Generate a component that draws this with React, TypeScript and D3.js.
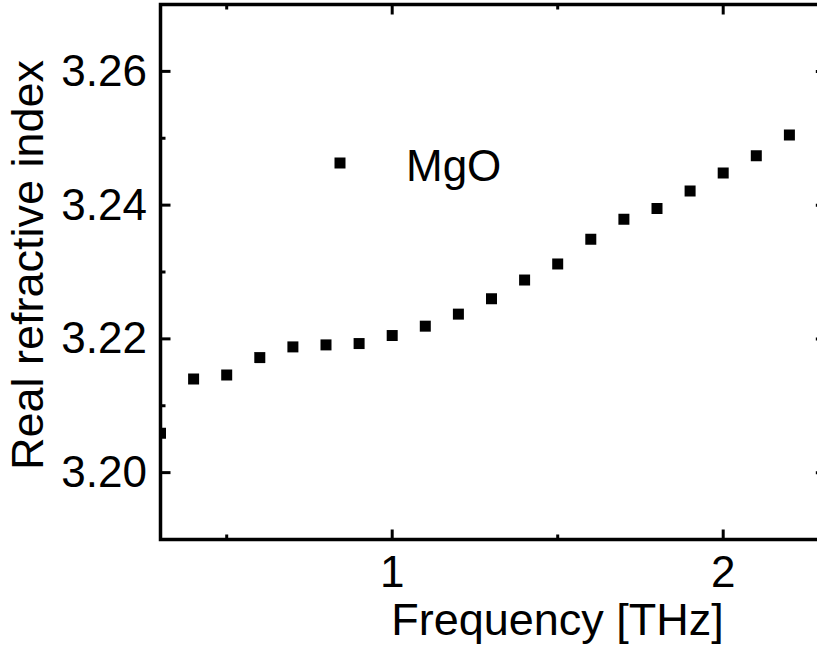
import React from "react";
import * as d3 from "d3";

const freqTHz = [0.3, 0.4, 0.5, 0.6, 0.7, 0.8, 0.9, 1.0, 1.1, 1.2, 1.3, 1.4, 1.5, 1.6, 1.7, 1.8, 1.9, 2.0, 2.1, 2.2];
const realIndex = [3.2059, 3.2140, 3.2146, 3.2172, 3.2188, 3.2191, 3.2193, 3.2205, 3.2219, 3.2237, 3.2260, 3.2288, 3.2312, 3.2349, 3.2379, 3.2395, 3.2421, 3.2448, 3.2474, 3.2505];
const xMajorTicks = [1, 2];
const xMinorTicks = [0.5, 1.5];
const yMajorTicks = [3.2, 3.22, 3.24, 3.26];
const yMinorTicks = [3.21, 3.23, 3.25];
const seriesName = "MgO";
const xTitle = "Frequency [THz]";
const yTitle = "Real refractive index";

const W = 817;
const H = 661;
const L = 160.5, T = 4.5, B = 539.5;
const PX_PER_THZ = 331;
const X0 = 0.3, X1 = 2.31;
const R = L + (X1 - X0) * PX_PER_THZ;
const FONT = "'Liberation Sans', Arial, Helvetica, sans-serif";

export default function App() {
  const x = d3.scaleLinear().domain([X0, X1]).range([L, R]);
  const y = d3.scaleLinear().domain([3.19, 3.27]).range([B, T]);
  const sym = d3.symbol().type(d3.symbolSquare).size(121);
  const sqPath = sym() as string;
  const lw = 3.5;
  const maj = 10, min = 5;

  return (
    <svg width={W} height={H} style={{ position: "absolute", left: 0, top: 0, background: "#fff" }}>
      <defs>
        <clipPath id="plotclip">
          <rect x={L} y={T} width={R - L} height={B - T} />
        </clipPath>
      </defs>
      <rect x={0} y={0} width={W} height={H} fill="#fff" />
      <g clipPath="url(#plotclip)">
        {freqTHz.map((f, i) => (
          <path key={i} d={sqPath} transform={`translate(${x(f)},${y(realIndex[i])})`} fill="#000" />
        ))}
      </g>
      <g stroke="#000" strokeWidth={3}>
        {xMajorTicks.map((t) => (
          <g key={"xm" + t}>
            <line x1={x(t)} x2={x(t)} y1={B} y2={B - maj} />
            <line x1={x(t)} x2={x(t)} y1={T} y2={T + maj} />
          </g>
        ))}
        {xMinorTicks.map((t) => (
          <g key={"xn" + t}>
            <line x1={x(t)} x2={x(t)} y1={B} y2={B - min} />
            <line x1={x(t)} x2={x(t)} y1={T} y2={T + min} />
          </g>
        ))}
        {yMajorTicks.map((t) => (
          <g key={"ym" + t}>
            <line x1={L} x2={L + maj} y1={y(t)} y2={y(t)} />
            <line x1={R} x2={R - maj} y1={y(t)} y2={y(t)} />
          </g>
        ))}
        {yMinorTicks.map((t) => (
          <g key={"yn" + t}>
            <line x1={L} x2={L + min} y1={y(t)} y2={y(t)} />
            <line x1={R} x2={R - min} y1={y(t)} y2={y(t)} />
          </g>
        ))}
      </g>
      <rect x={L} y={T} width={R - L} height={B - T} fill="none" stroke="#000" strokeWidth={lw} />
      <g fontFamily={FONT} fontSize={44} fill="#000">
        {yMajorTicks.map((t) => (
          <text key={"yl" + t} x={147} y={y(t) + 14.5} textAnchor="end">
            {d3.format(".2f")(t)}
          </text>
        ))}
        {xMajorTicks.map((t) => (
          <text key={"xl" + t} x={x(t)} y={587} textAnchor="middle">
            {String(t)}
          </text>
        ))}
      </g>
      <text x={557.5} y={635} textAnchor="middle" fontFamily={FONT} fontSize={45} fill="#000">
        {xTitle}
      </text>
      <text
        transform={`translate(43,265) rotate(-90)`}
        textAnchor="middle"
        fontFamily={FONT}
        fontSize={45}
        fill="#000"
      >
        {yTitle}
      </text>
      <path d={sqPath} transform="translate(340,163)" fill="#000" />
      <text x={406} y={180.5} fontFamily={FONT} fontSize={44} fill="#000">
        {seriesName}
      </text>
    </svg>
  );
}
